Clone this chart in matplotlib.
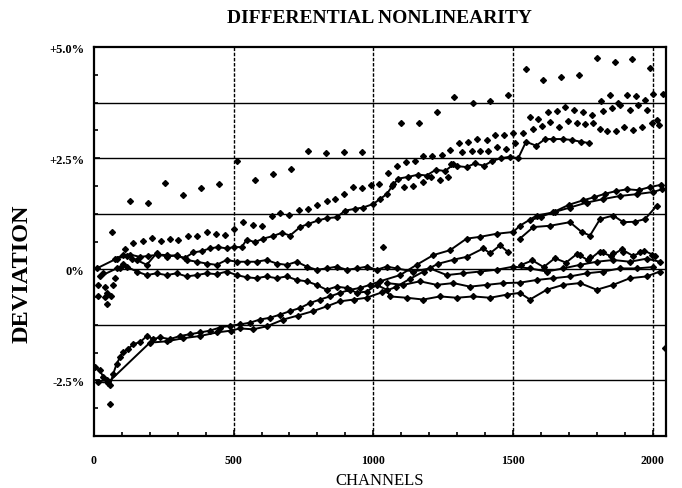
import matplotlib
matplotlib.use("Agg")
import matplotlib.pyplot as plt
from matplotlib.ticker import MultipleLocator, FixedLocator

# ---------------- data (channel, deviation %) ----------------
# sparse top series
sparse_ch = [64, 128, 192, 256, 320, 384, 448, 512, 576, 640, 704, 768, 832, 896, 960,
             1036, 1101, 1165, 1229, 1290, 1356, 1418, 1484, 1547, 1606, 1671, 1738,
             1800, 1865, 1927, 1991, 2044, 57]
sparse_dev = [0.84, 1.54, 1.50, 1.95, 1.67, 1.82, 1.93, 2.43, 2.00, 2.15, 2.26, 2.67, 2.61, 2.64, 2.64,
              0.50, 3.30, 3.30, 3.53, 3.87, 3.73, 3.79, 3.91, 4.50, 4.26, 4.33, 4.38,
              4.76, 4.67, 4.72, 4.53, -1.76, -3.02]

# dotted upper trend
upper_ch = [111, 141, 177, 206, 240, 272, 302, 338, 370, 403, 437, 469, 501, 535, 570, 600,
            636, 666, 699, 735, 767, 799, 833, 863, 896, 928, 958, 991, 1021, 1054, 1084,
            1117, 1149, 1179, 1212, 1245, 1275, 1308, 1340, 1372, 1406, 1436, 1468, 1501,
            1561, 1591, 1627, 1657, 1686, 1719, 1750, 1782,
            1814, 1848, 1877, 1907, 1940, 1973, 2003, 2036]
upper_dev = [0.45, 0.60, 0.63, 0.70, 0.64, 0.69, 0.67, 0.75, 0.75, 0.85, 0.80, 0.78, 0.91, 1.06, 1.00, 0.97,
             1.21, 1.26, 1.22, 1.34, 1.36, 1.44, 1.54, 1.59, 1.69, 1.85, 1.84, 1.89, 1.91, 2.17, 2.33,
             2.41, 2.43, 2.54, 2.54, 2.56, 2.69, 2.84, 2.86, 2.93, 2.91, 3.01, 3.02, 3.07,
             3.42, 3.38, 3.54, 3.56, 3.64, 3.58, 3.54, 3.47,
             3.78, 3.91, 3.74, 3.91, 3.89, 3.81, 3.95, 3.95]

# second dotted band (upper right)
upper2_ch = [1280, 1316, 1352, 1382, 1412, 1442, 1475, 1507, 1537, 1571, 1603, 1633, 1666, 1698,
             1728, 1758, 1788, 1812, 1838, 1869, 1898, 1931, 1961, 1997, 2024,
             1821, 1853, 1883, 1919, 1949, 1979, 2015]
upper2_dev = [2.36, 2.63, 2.65, 2.65, 2.65, 2.75, 2.70, 2.84, 3.06, 3.15, 3.22, 3.32, 3.19, 3.34,
              3.30, 3.27, 3.28, 3.15, 3.12, 3.12, 3.21, 3.13, 3.21, 3.28, 3.24,
              3.56, 3.62, 3.69, 3.59, 3.69, 3.58, 3.36]

# connected rising line (upper)
rise_ch = [75, 105, 129, 165, 194, 230, 260, 296, 326, 356, 386, 415, 445, 475, 501, 529, 547,
           576, 606, 642, 672, 702, 738, 767, 803, 833, 869, 899, 934, 964, 1000, 1024, 1048,
           1072, 1090, 1126, 1161, 1191, 1224, 1257, 1287, 1301, 1334, 1364, 1396, 1424, 1456,
           1489, 1519, 1547, 1583, 1615, 1645, 1678, 1710, 1743, 1773]
rise_dev = [0.24, 0.32, 0.33, 0.28, 0.30, 0.33, 0.32, 0.30, 0.26, 0.38, 0.41, 0.47, 0.50, 0.47, 0.50, 0.50, 0.67,
            0.61, 0.69, 0.75, 0.82, 0.76, 0.95, 1.02, 1.10, 1.15, 1.17, 1.32, 1.36, 1.39, 1.47, 1.58, 1.69,
            1.91, 2.04, 2.08, 2.13, 2.11, 2.24, 2.21, 2.36, 2.32, 2.30, 2.38, 2.33, 2.43, 2.50,
            2.53, 2.50, 2.87, 2.78, 2.93, 2.93, 2.93, 2.91, 2.87, 2.84]

rise_extra_ch = [1066, 1110, 1143, 1177, 1206, 1239, 1269]
rise_extra_dev = [1.87, 1.86, 1.87, 1.96, 2.08, 2.02, 2.08]

# band near zero, upper line
zero_a_ch = [10, 81, 117, 153, 189, 224, 260, 296, 332, 368, 403, 439, 475, 511, 547, 582, 618,
             654, 690, 726, 762, 797, 833, 869, 905, 941, 977, 1012, 1048, 1084, 1143, 1203,
             1263, 1322, 1382, 1442, 1501, 1561, 1621, 1680, 1740, 1800, 1859, 1919, 1979, 2026]
zero_a_dev = [0.02, 0.24, 0.30, 0.21, 0.10, 0.36, 0.28, 0.32, 0.21, 0.17, 0.13, 0.10, 0.21, 0.17, 0.17, 0.17, 0.21,
              0.13, 0.10, 0.17, 0.06, -0.01, 0.02, 0.06, -0.01, 0.02, 0.06, -0.01, 0.06, 0.02, -0.05, 0.02,
              -0.13, -0.09, -0.05, -0.01, 0.06, 0.02, -0.05, 0.02, 0.10, 0.17, 0.21, 0.17, 0.24, 0.17]

# band near zero, lower line
zero_b_ch = [21, 81, 117, 153, 189, 224, 260, 296, 332, 368, 403, 439, 475, 511, 547, 582, 618,
             654, 690, 726, 762, 797, 833, 869, 905, 941, 977, 1012, 1048, 1060, 1120, 1179,
             1239, 1299, 1358, 1418, 1478, 1525, 1561, 1621, 1680, 1740, 1800, 1859, 1919, 1979, 2026]
zero_b_dev = [-0.16, 0.02, 0.06, -0.05, -0.13, -0.09, -0.13, -0.09, -0.16, -0.13, -0.09, -0.11, -0.05, -0.13, -0.18, -0.20, -0.16,
              -0.20, -0.16, -0.24, -0.27, -0.35, -0.46, -0.39, -0.42, -0.53, -0.50, -0.35, -0.46, -0.61, -0.64, -0.68,
              -0.61, -0.64, -0.61, -0.64, -0.57, -0.53, -0.68, -0.46, -0.35, -0.31, -0.46, -0.35, -0.20, -0.16, -0.05]

# band slightly below zero after channel 1000
zero_c_ch = [1048, 1108, 1167, 1227, 1287, 1346, 1406, 1466, 1525, 1585, 1645, 1704, 1764, 1824, 1883, 1943, 2000]
zero_c_dev = [-0.31, -0.35, -0.27, -0.35, -0.31, -0.39, -0.35, -0.31, -0.30, -0.24, -0.20, -0.16, -0.09, -0.05, 0.02, 0.02, 0.05]

# scattered start points
start_ch = [15, 39, 45, 15, 39, 60, 45, 69, 75, 33, 93, 105, 135]
start_dev = [-0.35, -0.39, -0.53, -0.61, -0.63, -0.61, -0.79, -0.35, -0.20, -0.09, 0.02, 0.13, 0.24]

# bottom rising curve
low_a_ch = [4, 21, 33, 45, 57, 69, 81, 93, 105, 123, 141, 165, 189, 212, 236, 272, 308, 344, 380,
            415, 451, 487, 523, 559, 594, 630, 666, 702, 738, 773, 809, 845, 881, 917, 952, 988,
            1024, 1096, 1155, 1215, 1275, 1334, 1382, 1442, 1501, 1525, 1585, 1645, 1704, 1764,
            1824, 1883, 1943, 2003, 2033]
low_a_dev = [-2.20, -2.27, -2.42, -2.50, -2.61, -2.35, -2.13, -1.98, -1.87, -1.79, -1.68, -1.64, -1.50, -1.57, -1.53, -1.57, -1.50, -1.46, -1.42,
             -1.38, -1.31, -1.27, -1.24, -1.20, -1.13, -1.09, -1.02, -0.94, -0.87, -0.76, -0.68, -0.61, -0.53, -0.46, -0.42, -0.35,
             -0.27, -0.13, 0.10, 0.32, 0.43, 0.69, 0.73, 0.80, 0.84, 0.98, 1.21, 1.28, 1.39, 1.50,
             1.58, 1.65, 1.69, 1.74, 1.80]

# second bottom curve
low_b_ch = [15, 50, 200, 260, 320, 380, 440, 490, 523, 570, 620, 678, 730, 785, 835, 881, 930, 976,
            1030, 1080, 1130, 1180, 1230, 1290, 1334, 1394, 1418, 1454, 1484]
low_b_dev = [-2.53, -2.55, -1.65, -1.62, -1.55, -1.50, -1.42, -1.38, -1.33, -1.35, -1.28, -1.13, -1.04, -0.94, -0.83, -0.72, -0.68, -0.64,
             -0.52, -0.40, -0.22, -0.05, 0.12, 0.22, 0.28, 0.47, 0.36, 0.54, 0.38]

# right-hand bands
mid_a_ch = [1525, 1573, 1633, 1704, 1746, 1776, 1812, 1859, 1895, 1937, 1973, 2015]
mid_a_dev = [0.69, 0.95, 0.98, 1.06, 0.84, 0.76, 1.13, 1.21, 1.06, 1.07, 1.13, 1.43]

mid_b_ch = [1560, 1600, 1650, 1700, 1750, 1790, 1830, 1870, 1910, 1950, 1990, 2030]
mid_b_dev = [1.10, 1.18, 1.30, 1.45, 1.55, 1.62, 1.70, 1.76, 1.80, 1.78, 1.85, 1.90]

mid_c_ch = [1740, 1776, 1824, 1859, 1895, 1955, 1997]
mid_c_dev = [0.32, 0.28, 0.39, 0.36, 0.39, 0.39, 0.32]

mid_d_ch = [1530, 1570, 1610, 1650, 1690, 1730, 1770, 1810, 1850, 1890, 1930, 1970, 2010]
mid_d_dev = [0.10, 0.20, 0.05, 0.25, 0.15, 0.35, 0.20, 0.40, 0.30, 0.45, 0.30, 0.42, 0.30]

x_ticks = [0, 500, 1000, 1500, 2000]
x_labels = ["0", "500", "1000", "1500", "2000"]
y_ticks = [5.0, 2.5, 0.0, -2.5]
y_labels = ["+5.0%", "+2.5%", "0%", "-2.5%"]
h_lines = [3.75, 2.5, 1.25, 0.0, -1.25, -2.5]
v_lines = [500, 1000, 1500, 2000]

# ---------------- figure ----------------
serif = ["Liberation Serif", "DejaVu Serif"]
fig = plt.figure(figsize=(6.82, 4.89), dpi=100)
ax = fig.add_axes([0.1378, 0.1063, 0.8387, 0.7955])
ax.set_xlim(0, 2048)
ax.set_ylim(-3.75, 5.0)

for h in h_lines:
    ax.axhline(h, color="black", lw=1.0, zorder=1)
for v in v_lines:
    ax.axvline(v, color="black", lw=1.0, ls=(0, (2.5, 1.2)), zorder=1)

mk = dict(marker="D", ms=3.0, color="black", mec="black", zorder=3)

# markers-only series
for xs, ys in [(sparse_ch, sparse_dev), (upper_ch, upper_dev), (upper2_ch, upper2_dev),
               (rise_extra_ch, rise_extra_dev), (start_ch, start_dev),
               (mid_c_ch, mid_c_dev)]:
    ax.plot(xs, ys, ls="none", **mk)

# dense series (overlapping markers form a thick line)
for xs, ys in [(rise_ch, rise_dev), (zero_a_ch, zero_a_dev), (zero_b_ch, zero_b_dev),
               (zero_c_ch, zero_c_dev), (low_a_ch, low_a_dev), (low_b_ch, low_b_dev),
               (mid_a_ch, mid_a_dev), (mid_b_ch, mid_b_dev), (mid_d_ch, mid_d_dev)]:
    ax.plot(xs, ys, ls="-", lw=1.4, **mk)

for s in ax.spines.values():
    s.set_linewidth(1.6)

ax.xaxis.set_major_locator(FixedLocator(x_ticks))
ax.xaxis.set_minor_locator(MultipleLocator(100))
ax.yaxis.set_major_locator(FixedLocator(y_ticks))
ax.yaxis.set_minor_locator(MultipleLocator(0.625))
ax.set_xticklabels(x_labels)
ax.set_yticklabels(y_labels)
ax.tick_params(which="both", direction="in", top=False, right=False, width=1.2)
ax.tick_params(which="major", length=4)
ax.tick_params(which="minor", length=3)
ax.tick_params(axis="x", pad=13)
ax.tick_params(axis="y", pad=7)
for lab in ax.get_xticklabels():
    lab.set_family(serif)
    lab.set_fontweight("bold")
    lab.set_fontsize(8.5)
for lab in ax.get_yticklabels():
    lab.set_family(serif)
    lab.set_fontweight("bold")
    lab.set_fontsize(9)

fig.text(0.557, 0.962, "DIFFERENTIAL NONLINEARITY", ha="center", va="center",
         family=serif, fontweight="bold", fontsize=14)
fig.text(0.033, 0.44, "DEVIATION", ha="center", va="center", rotation=90,
         family=serif, fontweight="bold", fontsize=17.5)
fig.text(0.557, 0.016, "CHANNELS", ha="center", va="center",
         family=serif, fontsize=12)

fig.savefig("out.png", dpi=100)
